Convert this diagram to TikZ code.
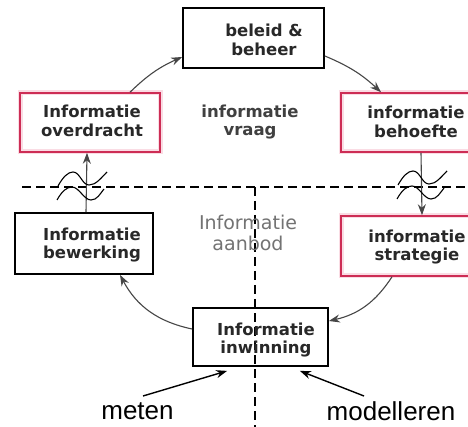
\documentclass[tikz,border=0pt]{standalone}
\usepackage{fontspec}
\setmainfont{DejaVu Sans}
\newfontfamily\armfont{Liberation Sans}
\usetikzlibrary{arrows.meta}
\definecolor{boxred}{RGB}{205,45,85}
\definecolor{halo}{RGB}{250,220,228}
\definecolor{txt}{RGB}{40,40,40}
\definecolor{flowgray}{RGB}{70,70,70}
\begin{document}
\begin{tikzpicture}[x=1pt,y=-1pt,
  blackbox/.style={draw=black, line width=1.8pt, inner sep=0pt},
  redbox/.style={draw=boxred, line width=1.6pt, inner sep=0pt,
    preaction={draw=halo, line width=5pt}},
  lbl/.style={font=\bfseries\fontsize{16.5}{18.5}\selectfont, text=txt, align=center, inner sep=0pt},
  flow/.style={draw=flowgray, line width=1.1pt, -{Stealth[length=11pt,width=8pt]}},
  pointer/.style={draw=black, line width=1.4pt, -{Stealth[length=11pt,width=8pt]}},
  divider/.style={draw=black, line width=2.4pt, dash pattern=on 9pt off 5pt},
  wave/.style={draw=black, line width=1.1pt},
  armtxt/.style={font=\armfont\fontsize{26}{28}\selectfont, inner sep=0pt}
]
\useasboundingbox (0,0) rectangle (468,427);
\fill[white] (0,0) rectangle (468,427);
\clip (0,0) rectangle (468,427);

% dividers
\coordinate (hl) at (22,187);
\coordinate (hr) at (468,187);
\coordinate (vt) at (255,187);
\coordinate (vb) at (255,427);
\draw[divider] (hl) -- (hr);
\draw[divider] (vt) -- (vb);

% boxes
\node[blackbox, minimum width=141pt, minimum height=60pt] (beleid) at (253.5,38) {};
\node[redbox, minimum width=140pt, minimum height=59pt] (overdracht) at (90,122.5) {};
\node[redbox, minimum width=149pt, minimum height=59pt] (behoefte) at (415.5,122.5) {};
\node[blackbox, minimum width=138pt, minimum height=61pt] (bewerking) at (84,243.5) {};
\node[redbox, minimum width=149pt, minimum height=60pt] (strategie) at (415.5,246) {};
\node[blackbox, minimum width=135pt, minimum height=58pt] (inwinning) at (260.5,337) {};

% labels
\node[lbl] (tbeleid) at (264,40) {beleid \&\\beheer};
\node[lbl] (toverdracht) at (92,121) {Informatie\\overdracht};
\node[lbl] (tbehoefte) at (416,122) {informatie\\behoefte};
\node[lbl] (tbewerking) at (92,245) {Informatie\\bewerking};
\node[lbl] (tstrategie) at (417,247) {informatie\\strategie};
\node[lbl] (tinwinning) at (266,340) {Informatie\\inwinning};
\node[lbl, text=black!75] (vraag) at (250,122) {informatie\\vraag};
\node[font=\fontsize{19}{21}\selectfont, text=black!55, align=center, inner sep=0pt] (aanbod) at (248,233) {Informatie\\aanbod};

% cycle
\draw[flow] ([xshift=40pt]overdracht.north) to[bend left=10] ([yshift=-19pt]beleid.west);
\draw[flow] ([yshift=-18pt]beleid.east) to[bend left=10] ([xshift=-34.5pt]behoefte.north);
\draw[flow] ([xshift=5.5pt]behoefte.south) -- ([xshift=6.5pt]strategie.north);
\draw[flow] ([xshift=-23.5pt]strategie.south) to[bend left=22] ([yshift=16pt]inwinning.east);
\draw[flow] ([yshift=8pt]inwinning.west) to[bend left=25] ([xshift=36pt]bewerking.south);
\draw[flow] ([xshift=2pt]bewerking.north) -- ([xshift=-3pt]overdracht.south);

% breaks
\foreach \wx/\wy in {58/186, 398/185}{
  \draw[wave, shift={(\wx,\wy)}] (0,0) .. controls (5,-9) and (10,-14) .. (15,-14)
     .. controls (22,-14) and (24,-1) .. (31,-1) .. controls (38,-1) and (43,-8) .. (49,-14);
  \draw[wave, shift={(\wx-1,\wy+14)}] (0,0) .. controls (5,-9) and (10,-13) .. (15,-13)
     .. controls (22,-13) and (27,0) .. (34,0) .. controls (40,0) and (43,-6) .. (47,-11);
}

% meten / modelleren
\node[armtxt] (meten) at (137.5,411) {meten};
\node[armtxt] (modelleren) at (391,411) {modelleren};
\coordinate (mstart) at (143,396);
\coordinate (modstart) at (364,396);
\draw[pointer] (mstart) -- ([shift={(35pt,-4pt)}]inwinning.south west);
\draw[pointer] (modstart) -- ([shift={(-29pt,-4pt)}]inwinning.south east);
\end{tikzpicture}
\end{document}
